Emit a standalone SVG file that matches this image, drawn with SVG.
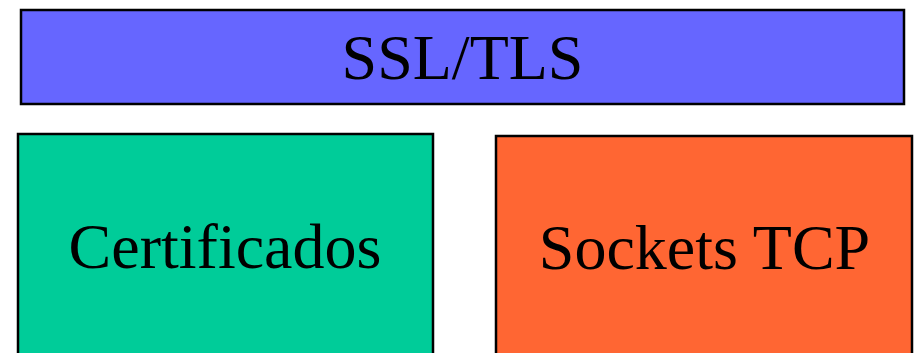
<svg xmlns="http://www.w3.org/2000/svg" width="917" height="353" viewBox="0 0 917 353">
<style>
.box{stroke:#000;stroke-width:2.5}
.lbl{font-family:"Liberation Serif","Times New Roman",serif;font-size:64px;fill:#000;text-anchor:middle}
</style>
<rect width="917" height="353" fill="#fff"/>
<g id="ssl">
<rect class="box" x="21" y="10" width="883" height="94" fill="#6666FF"/>
<text class="lbl" x="462.5" y="79">SSL/TLS</text>
</g>
<g id="cert">
<rect class="box" x="18" y="134" width="415" height="240" fill="#00CC99"/>
<text class="lbl" x="225" y="268">Certificados</text>
</g>
<g id="tcp">
<rect class="box" x="496" y="136" width="416" height="240" fill="#FF6633"/>
<text class="lbl" x="704.5" y="269">Sockets TCP</text>
</g>
<g id="connectors"/>
</svg>
